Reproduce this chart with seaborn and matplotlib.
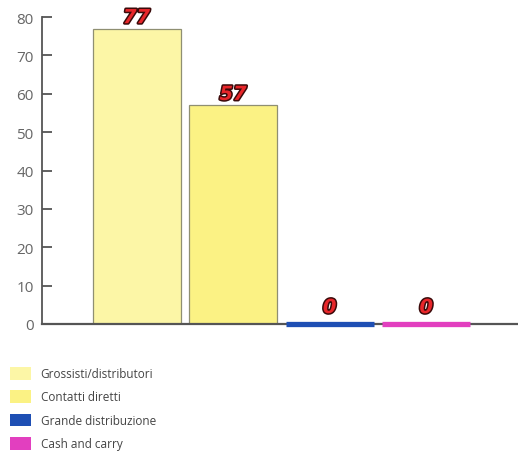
import matplotlib
matplotlib.use("Agg")
import matplotlib.pyplot as plt
import matplotlib.patheffects as pe
from matplotlib.patches import Patch
import seaborn as sns
import pandas as pd

categories = ["Grossisti/distributori", "Contatti diretti", "Grande distribuzione", "Cash and carry"]
values = [77, 57, 0, 0]
colors = ["#fcf6a6", "#fbf284", "#1e4fb4", "#e23fbf"]
yticks = [0, 10, 20, 30, 40, 50, 60, 70, 80]

sns.set_theme(style="white")
plt.rcParams["font.family"] = ["Open Sans", "DejaVu Sans"]

df = pd.DataFrame({"cat": categories, "val": values})

fig = plt.figure(figsize=(5.18, 4.52), dpi=100)
ax = fig.add_axes([0.081, 0.281, 0.919, 0.679])

sns.barplot(data=df, x="cat", y="val", hue="cat", palette=colors, legend=False,
            width=0.91, ax=ax, saturation=1)

for bar, v, c in zip(ax.patches, values, colors):
    if v == 0:
        bar.set_edgecolor(c)
        bar.set_linewidth(3.8)
        bar.set_zorder(5)
        bar.set_clip_on(False)
    else:
        bar.set_edgecolor("#8f8f72")
        bar.set_linewidth(0.9)
    ax.annotate(str(v), (bar.get_x() + bar.get_width() / 2, v),
                xytext=(0, 5 if v == 0 else 1), textcoords="offset points",
                ha="center", va="bottom", fontsize=14, fontweight="bold",
                fontstyle="italic", color="#e8262a", family=["DejaVu Sans"],
                path_effects=[pe.withStroke(linewidth=2.2, foreground="#3a0a0a")])

ax.set_xlim(-0.98, 3.95)
ax.set_ylim(0, 80)
ax.set_yticks(yticks)
ax.set_xticks([])
ax.set_xlabel("")
ax.set_ylabel("")
for s in ["top", "right"]:
    ax.spines[s].set_visible(False)
ax.spines["left"].set_color("#555555")
ax.spines["bottom"].set_color("#555555")
ax.spines["left"].set_linewidth(1.3)
ax.spines["bottom"].set_linewidth(1.6)
ax.tick_params(axis="y", direction="in", length=7, width=1.3, color="#555555",
               labelsize=11, labelcolor="#666666", left=True, pad=6)

handles = [Patch(facecolor=c, edgecolor="none") for c in colors]
fig.legend(handles, categories, loc="upper left", bbox_to_anchor=(0.01, 0.197),
           frameon=False, fontsize=8.5, labelcolor="#444444", handlelength=1.8,
           handleheight=1.3, handletextpad=0.8, labelspacing=0.85, borderaxespad=0)

fig.savefig("out.png", dpi=100)
